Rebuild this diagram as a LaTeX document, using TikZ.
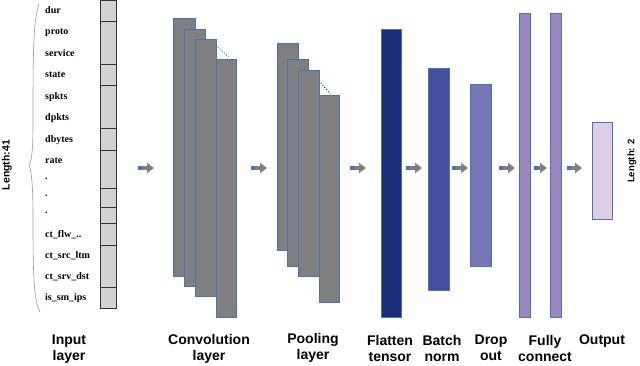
\documentclass[tikz,border=0pt]{standalone}
\usepackage{fontspec}
\setmainfont{Liberation Sans}
\newfontfamily\featfont{Liberation Serif}
\usetikzlibrary{arrows.meta,positioning,calc}
\definecolor{edgeblue}{RGB}{68,114,196}
\definecolor{mapgray}{RGB}{127,127,127}
\definecolor{cellgray}{RGB}{210,210,210}
\definecolor{flatblue}{RGB}{27,47,120}
\definecolor{normblue}{RGB}{68,80,159}
\definecolor{dropblue}{RGB}{116,120,181}
\definecolor{fcpurple}{RGB}{155,134,191}
\definecolor{outpink}{RGB}{224,204,229}

\begin{document}
\begin{tikzpicture}[x=1pt,y=-1pt,
  layer/.style={draw=edgeblue,line width=0.8pt,minimum width=20pt,inner sep=0pt,anchor=north west},
  fmap/.style={layer,fill=mapgray,minimum width=21pt},
  cell/.style={draw=black!80,fill=cellgray,line width=0.8pt},
  flow/.style={draw=mapgray,line width=4pt,-{Triangle[width=10pt,length=7pt]}},
  lbl/.style={align=center,font=\fontsize{14}{16}\selectfont\bfseries},
  feat/.style={anchor=west,inner sep=0pt,font=\featfont\fontsize{10}{12}\selectfont\bfseries}]
\useasboundingbox (0,0) rectangle (640,365);
% input vector
\foreach \ya/\yb in {0/21,21/64,64/85,85/128,128/150,150/188,188/207,207/223,223/245,245/287,287/308}
  \draw[cell] (100,\ya) rectangle (116,\yb);
\foreach \t/\y [count=\i] in {dur/10,proto/33,service/53,state/75,spkts/97,dpkts/118,dbytes/140,rate/161,./179,./196,./213,ct\_flw\_../235,ct\_src\_ltm/256,ct\_srv\_dst/277,is\_sm\_ips/298}
  \node[feat] (feat\i) at (45,\y) {\t};
\draw[edgeblue!70,line width=0.6pt] (39,4) .. controls (33,20) and (33,60) .. (33,120)
  .. controls (33,150) and (32,160) .. (29,165) .. controls (32,172) and (33,190) .. (33,220)
  .. controls (33,280) and (34,300) .. (40,312);
\node[rotate=90,font=\fontsize{10.5}{12}\selectfont\bfseries] (lenin) at (7,165) {Length:41};
% convolution maps
\node[fmap,minimum height=258pt,minimum width=22pt] (conv1) at (173,18) {};
\node[fmap,minimum height=257pt] (conv2) at (184,29) {};
\node[fmap,minimum height=257pt] (conv3) at (195,39) {};
\node[fmap,minimum height=258pt,minimum width=20pt] (conv4) at (216,59) {};
\draw[dotted,line width=0.8pt] ($(conv3.north east)+(1,8)$) -- ($(conv4.north)+(2,-2)$);
% pooling maps
\node[fmap,minimum height=207pt] (pool1) at (277,43) {};
\node[fmap,minimum height=207pt] (pool2) at (287,59) {};
\node[fmap,minimum height=206pt] (pool3) at (298,70) {};
\node[fmap,minimum height=207pt,minimum width=20pt] (pool4) at (319,95) {};
\draw[dotted,line width=0.8pt] ($(pool3.north east)+(1,13)$) -- ($(pool4.north)+(1,-1)$);
% dense part
\node[layer,fill=flatblue,minimum height=288pt] (flat) at (381,29) {};
\node[layer,fill=normblue,minimum width=21pt,minimum height=222pt] (norm) at (428,68) {};
\node[layer,fill=dropblue,minimum width=21pt,minimum height=182pt] (drop) at (470,84) {};
\node[layer,fill=fcpurple,minimum width=11pt,minimum height=304pt] (fc1) at (519,13) {};
\node[layer,fill=fcpurple,minimum width=11pt,minimum height=304pt] (fc2) at (550,13) {};
\node[layer,fill=outpink,minimum height=97pt] (out) at (592,122) {};
\node[rotate=90,font=\fontsize{9.5}{11}\selectfont\bfseries] (lenout) at (632,161) {Length: 2};
% arrows between layers
\foreach \xa/\xb [count=\i] in {138/154,251/267,350/366,406/422,452/468,499/515,534/547,567/582}{
  \coordinate (s\i) at (\xa,168);
  \coordinate (e\i) at (\xb,168);
  \draw[flow] (s\i) -- (e\i);
  \draw[edgeblue,line width=4pt] (s\i) -- ++(4,0);
}
% captions
\node[lbl] (tin) at (69,349) {Input\\layer};
\node[lbl] (tconv) at (209,349) {Convolution\\layer};
\node[lbl] (tpool) at (313,348) {Pooling\\layer};
\node[lbl] (tflat) at (390,348) {Flatten\\tensor};
\node[lbl] (tnorm) at (442,348) {Batch\\norm};
\node[lbl] (tdrop) at (491,348) {Drop\\out};
\node[lbl] (tfc) at (545,348) {Fully\\connect};
\node[lbl] (tout) at (602,341) {Output};
\end{tikzpicture}
\end{document}
